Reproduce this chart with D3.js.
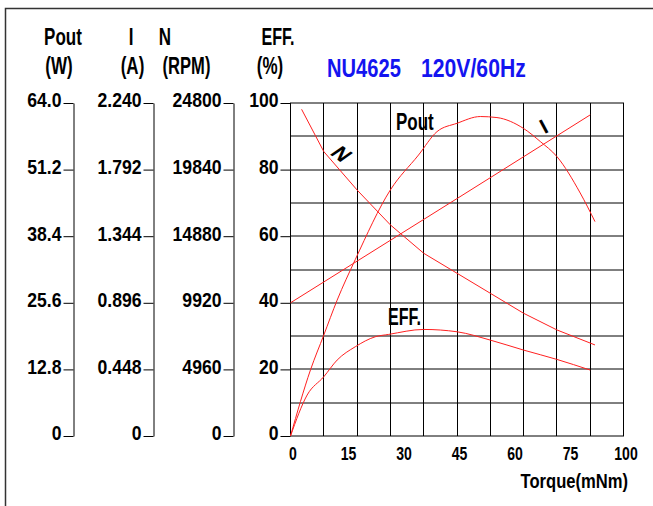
<!DOCTYPE html>
<html>
<head>
<meta charset="utf-8">
<style>
  body { margin: 0; background: #fff; }
  svg text { font-family: "Liberation Sans", Arial, sans-serif; font-weight: bold; }
</style>
</head>
<body>
<svg id="chart"></svg>
<script src="https://d3js.org/d3.v7.min.js"></script>
<script>
// torque positions (plot units) and values
var poutTorque = [0, 5.4, 9, 12.6, 17.5, 27, 34.6, 39.6, 45, 51.3, 55.8, 63, 67.5, 72, 78.3, 82.3];
var poutW      = [0, 12.7, 19.4, 26.1, 33.9, 47.3, 54.0, 58.5, 60.1, 61.4, 61.2, 59.1, 56.6, 53.7, 46.7, 41.2];

var currTorque = [0, 45, 81];
var currA      = [0.896, 1.597, 2.16];

var speedTorque = [3, 9, 18, 27, 36, 45, 54, 63, 72, 82.3];
var speedRPM    = [24330, 21180, 18320, 15720, 13610, 12120, 10630, 9140, 7900, 6780];

var effTorque = [0, 4.5, 9, 12.6, 17.5, 22.9, 26.5, 36, 45, 54, 63, 72, 81];
var effPct    = [0, 12.3, 17.8, 22.8, 26.8, 29.8, 30.5, 32.0, 31.3, 28.8, 25.8, 23.0, 19.8];

var poutTicks  = ["0", "12.8", "25.6", "38.4", "51.2", "64.0"];
var currTicks  = ["0", "0.448", "0.896", "1.344", "1.792", "2.240"];
var speedTicks = ["0", "4960", "9920", "14880", "19840", "24800"];
var effTicks   = ["0", "20", "40", "60", "80", "100"];
var xTickVals  = [0, 15, 30, 45, 60, 75, 90];
var xTickText  = ["0", "15", "30", "45", "60", "75", "100"];

var width = 653, height = 506;
var svg = d3.select("#chart").attr("width", width).attr("height", height);

var plotTop = 103, plotBottom = 436, plotLeft = 290, plotRight = 623.5;
var x = d3.scaleLinear().domain([0, 90]).range([plotLeft + 0.5, plotRight]);
var yEff = d3.scaleLinear().domain([0, 100]).range([plotBottom, plotTop]);
var yPout = d3.scaleLinear().domain([0, 64]).range([plotBottom, plotTop]);
var yCurr = d3.scaleLinear().domain([0, 2.24]).range([plotBottom, plotTop]);
var ySpeed = d3.scaleLinear().domain([0, 24800]).range([plotBottom, plotTop]);

// narrow-looking text: scale glyphs horizontally
function txt(px, py, str, size, sx, anchor, fill) {
  return svg.append("text")
    .attr("transform", "translate(" + px + "," + py + ") scale(" + sx + ",1)")
    .attr("text-anchor", anchor || "start")
    .attr("font-size", size)
    .attr("fill", fill || "#000")
    .text(str);
}

// outer frame (only top and left visible)
svg.append("path").attr("d", "M5.5,700 V8.5 H700")
  .attr("fill", "none").attr("stroke", "#333").attr("stroke-width", 1.5);

// grid
var grid = svg.append("g");
d3.range(0, 101, 10).forEach(function(v){
  grid.append("line").attr("x1", plotLeft).attr("x2", plotRight + 0.5)
    .attr("y1", Math.round(yEff(v))).attr("y2", Math.round(yEff(v)))
    .attr("stroke", "#000").attr("stroke-width", 1);
});
d3.range(0, 91, 9).forEach(function(t){
  var xx = Math.round(x(t) - 0.5) + 0.5;
  grid.append("line").attr("x1", xx).attr("x2", xx)
    .attr("y1", plotTop).attr("y2", plotBottom)
    .attr("stroke", "#000").attr("stroke-width", 1);
});

// left axes
function leftAxis(scale, labels, domainMax, axisX) {
  var vals = labels.map(function(d, i){ return domainMax * i / (labels.length - 1); });
  var ax = d3.axisLeft(scale).tickValues(vals)
    .tickFormat(function(d, i){ return labels[i]; })
    .tickSize(10).tickSizeOuter(0).tickPadding(2);
  var g = svg.append("g").attr("transform", "translate(" + axisX + ",0)").call(ax);
  g.select(".domain").attr("stroke", "#000");
  g.selectAll(".tick line").attr("stroke", "#000");
  g.selectAll(".tick text").attr("font-size", 20).attr("fill", "#000")
    .attr("dy", "0.19em").attr("x", -12 / 0.88).attr("transform", "scale(0.88,1)");
  return g;
}
leftAxis(yPout, poutTicks, 64, 73.5);
leftAxis(yCurr, currTicks, 2.24, 153.5);
leftAxis(ySpeed, speedTicks, 24800, 233.5);
var effAx = leftAxis(yEff, effTicks, 100, plotLeft + 0.5);
effAx.select(".domain").remove();

// bottom axis labels
var xAx = d3.axisBottom(x).tickValues(xTickVals)
  .tickFormat(function(d, i){ return xTickText[i]; })
  .tickSize(0).tickPadding(11);
var xg = svg.append("g").attr("transform", "translate(2," + plotBottom + ")").call(xAx);
xg.select(".domain").remove();
xg.selectAll(".tick text").attr("font-size", 19).attr("fill", "#000")
  .attr("transform", "scale(0.74,1)");

txt(628, 488, "Torque(mNm)", 20, 0.83, "end");

// headers
txt(63, 45, "Pout", 23, 0.74, "middle");
txt(131, 45, "I", 23, 0.74, "middle");
txt(165, 45, "N", 23, 0.74, "middle");
txt(278, 45, "EFF.", 23, 0.7, "middle");
txt(59, 74, "(W)", 23, 0.74, "middle");
txt(132.5, 74, "(A)", 23, 0.74, "middle");
txt(186.5, 74, "(RPM)", 23, 0.72, "middle");
txt(270, 74, "(%)", 23, 0.74, "middle");

txt(327, 77, "NU4625", 26.5, 0.76, "start", "#1414f0");
txt(421, 77, "120V/60Hz", 26.5, 0.8, "start", "#1414f0");

// curves
function curve(ts, vs, scale, shape) {
  var line = d3.line().curve(shape)
    .x(function(d){ return x(d[0]); })
    .y(function(d){ return scale(d[1]); });
  svg.append("path")
    .attr("d", line(d3.zip(ts, vs)))
    .attr("fill", "none").attr("stroke", "#ff2020").attr("stroke-width", 1);
}
curve(poutTorque, poutW, yPout, d3.curveMonotoneX);
curve(currTorque, currA, yCurr, d3.curveLinear);
curve(speedTorque, speedRPM, ySpeed, d3.curveLinear);
curve(effTorque, effPct, yEff, d3.curveMonotoneX);

// curve labels
txt(396, 130, "Pout", 23, 0.74);
txt(388, 325, "EFF.", 23, 0.7);
svg.append("text").attr("transform", "translate(329,154) rotate(35) skewX(-20)")
  .attr("font-size", 21).text("N");
svg.append("text").attr("transform", "translate(547,133) rotate(-28)")
  .attr("font-size", 21).attr("text-anchor", "middle").text("I");
</script>
</body>
</html>
